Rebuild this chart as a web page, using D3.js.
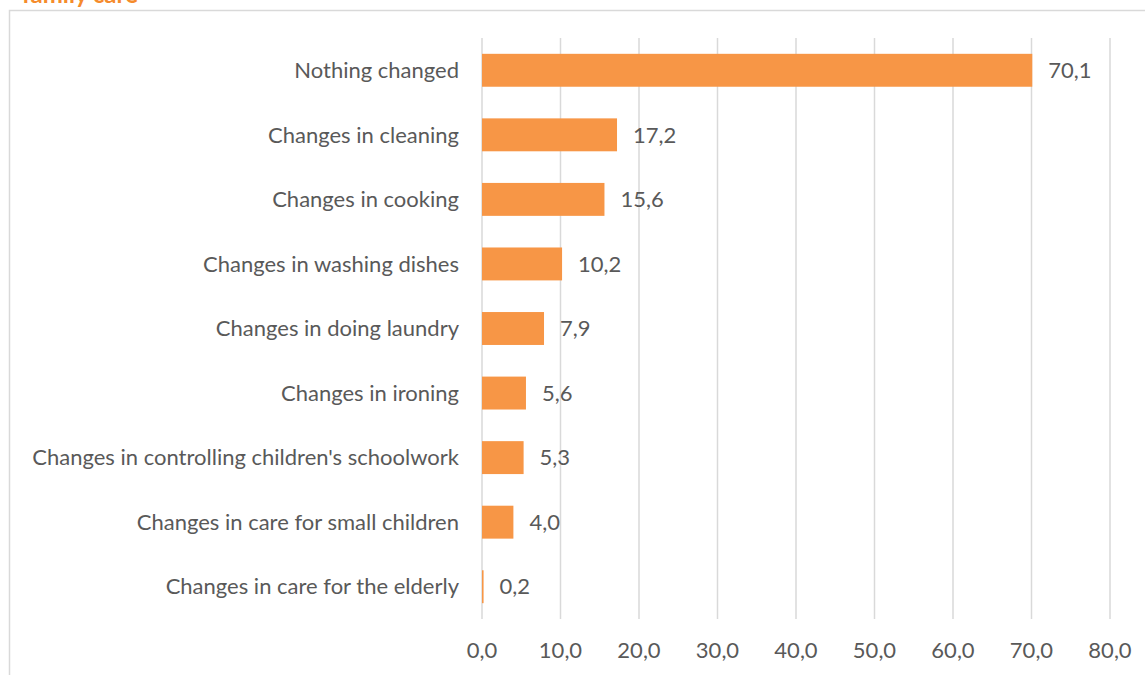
<!DOCTYPE html>
<html lang="en">
<head>
<meta charset="UTF-8">
<title>Family care</title>
<script src="https://cdnjs.cloudflare.com/ajax/libs/d3/7.8.5/d3.min.js"></script>
<style>
  html, body { margin: 0; padding: 0; background: #fff; }
  svg text { font-family: Lato, "Open Sans", sans-serif; fill: #595959; }
</style>
</head>
<body>
<svg id="chart" width="1145" height="675"></svg>
<script>
// data
const categories = [
  "Nothing changed",
  "Changes in cleaning",
  "Changes in cooking",
  "Changes in washing dishes",
  "Changes in doing laundry",
  "Changes in ironing",
  "Changes in controlling children's schoolwork",
  "Changes in care for small children",
  "Changes in care for the elderly"
];
const values = [70.1, 17.2, 15.6, 10.2, 7.9, 5.6, 5.3, 4.0, 0.2];
const xTicks = [0, 10, 20, 30, 40, 50, 60, 70, 80];

const fmt = v => d3.format(".1f")(v).replace(".", ",");

const svg = d3.select("#chart");

// chart frame and the title above it (cut off by the top edge, as in the source)
svg.append("rect")
  .attr("x", 9.5).attr("y", 10.5)
  .attr("width", 1200).attr("height", 700)
  .attr("fill", "none").attr("stroke", "#d9d9d9").attr("stroke-width", 1.5);

svg.append("text")
  .attr("x", 22).attr("y", 3)
  .style("font-size", "24px").style("font-weight", "bold")
  .style("fill", "#f58b2c")
  .text("family care");

const plot = { left: 482, right: 1110, top: 38, bottom: 619 };

const x = d3.scaleLinear().domain([0, 80]).range([plot.left, plot.right]);
const y = d3.scaleBand().domain(categories).range([plot.top, plot.bottom]).paddingInner(0.49).paddingOuter(0.245);

// gridlines
svg.append("g")
  .selectAll("line")
  .data(xTicks)
  .join("line")
  .attr("x1", d => x(d)).attr("x2", d => x(d))
  .attr("y1", plot.top).attr("y2", plot.bottom)
  .attr("stroke", "#d9d9d9").attr("stroke-width", 1.5);

// x tick labels
svg.append("g")
  .selectAll("text")
  .data(xTicks)
  .join("text")
  .attr("x", d => x(d)).attr("y", 658)
  .attr("text-anchor", "middle")
  .style("font-size", "22px")
  .text(d => fmt(d));

// bars
svg.append("g")
  .selectAll("rect")
  .data(values)
  .join("rect")
  .attr("x", x(0))
  .attr("y", (d, i) => y(categories[i]))
  .attr("width", d => x(d) - x(0))
  .attr("height", y.bandwidth())
  .attr("fill", "#f79646");

// value labels
svg.append("g")
  .selectAll("text")
  .data(values)
  .join("text")
  .attr("x", d => x(d) + 16)
  .attr("y", (d, i) => y(categories[i]) + y.bandwidth() / 2)
  .attr("dy", "0.35em")
  .style("font-size", "22px")
  .text(d => fmt(d));

// category labels
svg.append("g")
  .selectAll("text")
  .data(categories)
  .join("text")
  .attr("x", plot.left - 23)
  .attr("y", d => y(d) + y.bandwidth() / 2)
  .attr("dy", "0.35em")
  .attr("text-anchor", "end")
  .style("font-size", "22px")
  .text(d => d);
</script>
</body>
</html>
